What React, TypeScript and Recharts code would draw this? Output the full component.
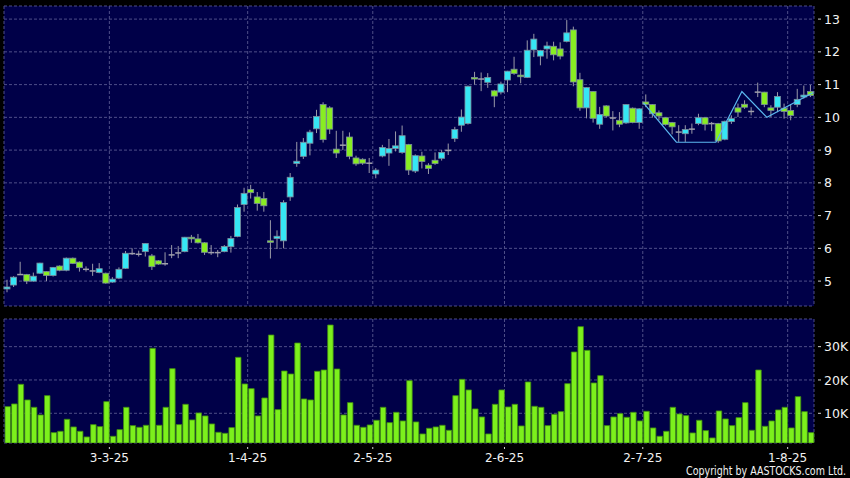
import React from "react";
import { ComposedChart, BarChart, Bar, Line, XAxis, YAxis, CartesianGrid } from "recharts";

// daily OHLC, 7 Feb 2025 .. 6 Aug 2025 (123 sessions)
const OPEN = [
  4.76, 4.88, 5.21, 5.2, 5.0, 5.24, 5.29, 5.17, 5.46, 5.33,
  5.7, 5.58, 5.37, 5.32, 5.26, 5.24, 4.97, 5.09, 5.39, 5.85,
  5.83, 5.9, 5.77, 5.62, 5.54, 5.81, 5.87, 5.9, 6.34, 6.29,
  6.17, 5.88, 5.88, 5.9, 6.05, 6.36, 7.34, 7.8, 7.57, 7.52,
  6.23, 6.3, 6.23, 7.57, 8.59, 8.81, 9.21, 9.65, 10.39, 10.29,
  9.03, 9.17, 9.4, 8.76, 8.72, 8.61, 8.27, 8.82, 8.91, 9.05,
  8.93, 9.17, 8.36, 8.82, 8.54, 8.69, 8.75, 9.0, 9.35, 9.76,
  9.81, 11.22, 11.18, 11.07, 10.81, 10.77, 11.14, 11.47, 11.29, 11.22,
  12.06, 11.87, 12.09, 12.17, 12.09, 12.32, 12.67, 11.15, 10.29, 10.79,
  9.79, 10.35, 9.99, 9.91, 9.83, 10.28, 9.84, 10.47, 10.39, 10.14,
  9.99, 9.84, 9.56, 9.5, 9.65, 9.81, 9.99, 9.82, 9.81, 9.33,
  9.87, 10.29, 10.4, 10.19, 10.78, 10.77, 10.29, 10.31, 10.28, 10.21,
  10.39, 10.62, 10.79,
];
const HIGH = [
  5.04, 5.15, 5.59, 5.22, 5.26, 5.56, 5.3, 5.43, 5.48, 5.72,
  5.72, 5.6, 5.45, 5.53, 5.55, 5.26, 5.12, 5.42, 5.92, 6.0,
  5.93, 6.16, 5.83, 5.64, 5.88, 6.1, 6.07, 6.35, 6.41, 6.44,
  6.19, 6.1, 5.95, 6.1, 6.38, 7.34, 7.85, 7.94, 7.72, 7.72,
  6.86, 6.55, 7.47, 8.3, 9.25, 9.37, 9.62, 10.23, 10.46, 10.34,
  9.59, 9.59, 9.54, 8.83, 8.75, 8.76, 8.45, 9.16, 9.34, 9.57,
  9.75, 9.19, 8.87, 8.95, 8.6, 8.93, 9.0, 9.2, 9.71, 10.24,
  10.97, 11.39, 11.37, 11.35, 10.84, 11.09, 11.42, 11.85, 11.47, 12.35,
  12.55, 12.06, 12.31, 12.31, 12.29, 12.97, 12.77, 11.36, 10.92, 10.8,
  10.32, 10.37, 10.19, 10.16, 10.4, 10.3, 10.28, 10.7, 10.4, 10.21,
  10.0, 9.86, 9.76, 9.76, 9.81, 10.11, 10.0, 9.86, 9.83, 9.9,
  10.06, 10.42, 10.52, 10.31, 11.06, 10.78, 10.37, 10.77, 10.42, 10.4,
  10.87, 10.97, 10.99,
];
const LOW = [
  4.66, 4.82, 5.2, 4.91, 4.98, 5.22, 5.0, 5.14, 5.3, 5.3,
  5.52, 5.29, 5.29, 5.16, 5.24, 4.92, 4.95, 5.06, 5.37, 5.8,
  5.75, 5.75, 5.34, 5.5, 5.47, 5.7, 5.7, 5.88, 6.17, 6.15,
  5.8, 5.8, 5.73, 5.88, 5.87, 6.34, 7.12, 7.52, 7.15, 7.12,
  5.69, 5.98, 6.0, 7.45, 8.49, 8.73, 8.84, 9.52, 9.23, 9.49,
  8.76, 9.0, 8.72, 8.52, 8.55, 8.3, 8.14, 8.78, 8.52, 8.96,
  8.89, 8.24, 8.3, 8.44, 8.27, 8.55, 8.68, 8.85, 9.25, 9.56,
  9.78, 11.0, 10.8, 10.9, 10.31, 10.7, 10.77, 11.3, 11.04, 11.2,
  11.84, 11.59, 11.79, 11.74, 11.77, 12.29, 10.95, 10.2, 9.97, 9.84,
  9.65, 10.0, 9.6, 9.7, 9.8, 9.82, 9.65, 10.31, 9.99, 9.91,
  9.75, 9.48, 9.25, 9.25, 9.5, 9.76, 9.6, 9.58, 9.22, 9.3,
  9.8, 10.01, 10.26, 10.06, 10.62, 10.31, 10.01, 10.16, 9.96, 9.91,
  10.31, 10.57, 10.62,
];
const CLOSE = [
  4.82, 5.12, 5.2, 5.0, 5.15, 5.55, 5.17, 5.42, 5.33, 5.7,
  5.54, 5.41, 5.36, 5.31, 5.38, 4.94, 5.06, 5.36, 5.85, 5.84,
  5.82, 6.15, 5.44, 5.52, 5.53, 5.8, 5.86, 6.34, 6.29, 6.17,
  5.88, 5.87, 5.87, 6.06, 6.3, 7.25, 7.68, 7.7, 7.37, 7.3,
  6.21, 6.37, 7.4, 8.17, 8.66, 9.24, 9.55, 10.03, 9.32, 9.64,
  8.91, 9.15, 8.81, 8.58, 8.6, 8.6, 8.39, 9.08, 9.05, 9.13,
  9.44, 8.39, 8.83, 8.65, 8.44, 8.59, 8.93, 8.99, 9.63, 10.01,
  10.95, 11.17, 11.17, 11.22, 10.65, 11.02, 11.41, 11.34, 11.24, 12.05,
  12.39, 12.04, 12.18, 11.91, 11.87, 12.58, 11.08, 10.29, 10.91, 9.97,
  10.09, 10.04, 9.98, 9.79, 10.39, 9.84, 10.26, 10.4, 10.11, 10.04,
  9.78, 9.71, 9.55, 9.63, 9.64, 9.99, 9.79, 9.81, 9.28, 9.88,
  9.96, 10.16, 10.31, 10.18, 10.77, 10.39, 10.21, 10.64, 10.18, 10.06,
  10.55, 10.68, 10.67,
];
// volume in thousands of shares
const VOLUME_K = [
  12.0, 12.8, 18.7, 14.0, 11.8, 9.5, 15.3, 4.2, 4.6, 8.2,
  5.9, 4.6, 2.9, 6.6, 6.0, 13.5, 3.1, 5.1, 11.8, 6.3,
  5.8, 6.4, 29.5, 6.4, 11.8, 23.4, 6.6, 12.7, 8.0, 10.1,
  9.2, 6.8, 4.3, 4.0, 5.7, 26.8, 18.8, 17.4, 9.2, 14.6,
  33.5, 11.1, 22.7, 21.8, 31.1, 14.3, 14.0, 22.6, 23.0, 36.5,
  23.3, 9.5, 13.2, 6.4, 5.8, 6.5, 7.9, 11.8, 7.2, 10.3,
  7.7, 19.8, 7.4, 3.8, 5.5, 5.9, 6.4, 4.9, 15.3, 20.2,
  17.0, 11.3, 8.9, 3.8, 12.7, 17.0, 11.9, 12.7, 6.2, 19.4,
  12.1, 11.8, 6.3, 9.7, 10.5, 18.9, 28.4, 36.0, 28.9, 19.1,
  21.3, 6.3, 8.9, 9.9, 8.8, 10.3, 7.7, 10.6, 5.6, 3.1,
  4.6, 11.8, 9.8, 9.3, 4.1, 7.9, 4.8, 2.6, 10.7, 8.3,
  6.3, 8.7, 13.2, 4.9, 23.0, 6.1, 7.7, 11.0, 11.8, 5.6,
  15.0, 10.5, 4.2,
];

// month markers sit on the left edge of the first session of each month
const TICK_POS = [15.5, 36.5, 55.5, 75.5, 96.5, 118.5];
const TICK_LABELS = ["3-3-25", "1-4-25", "2-5-25", "2-6-25", "2-7-25", "1-8-25"];
const PRICE_TICKS = [5, 6, 7, 8, 9, 10, 11, 12, 13];
const VOL_TICKS = [10000, 20000, 30000];

// trend line drawn over the last weeks
const PATTERN_X = [96.6, 101.6, 107.6, 111.55, 115.35, 122.4];
const PATTERN_Y = [10.44, 9.24, 9.24, 10.79, 10.0, 10.76];

const rows = OPEN.map((o, i) => ({
  i,
  o,
  h: HIGH[i],
  l: LOW[i],
  c: CLOSE[i],
  range: [LOW[i], HIGH[i]],
  vol: VOLUME_K[i] * 1000,
}));
const pattern = PATTERN_X.map((x, k) => ({ i: x, p: PATTERN_Y[k] }));

const PANEL = "#000048";
const GRID = "#4e4e88";
const FONT = "DejaVu Sans, Verdana, sans-serif";

const Candle = (props: any) => {
  const { x, y, width, height, payload } = props;
  if (!payload || x == null) return null;
  const { o, h, l, c } = payload;
  const top = Math.min(y, y + height);
  const hh = Math.abs(height);
  const span = h - l || 1;
  const py = (v: number) => top + ((h - v) / span) * hh;
  const cx = x + width / 2;
  const flat = Math.abs(o - c) < 0.02;
  const b1 = py(Math.max(o, c));
  const b2 = py(Math.min(o, c));
  return (
    <g>
      <line x1={cx} x2={cx} y1={top} y2={top + hh} stroke="#9a9aa8" strokeWidth={1} />
      {flat ? (
        <line x1={x} x2={x + width} y1={py(c)} y2={py(c)} stroke="#a0a0ac" strokeWidth={1.5} />
      ) : (
        <rect
          x={x}
          y={b1}
          width={width}
          height={Math.max(b2 - b1, 1.5)}
          fill={c > o ? "#36e6f4" : "#88ee22"}
          stroke="#7a8c9c"
          strokeWidth={0.8}
        />
      )}
    </g>
  );
};

const RightTick = (props: any) => {
  const { x, y, payload, fmt } = props;
  return (
    <g>
      <line x1={x + 4} x2={x + 7} y1={y} y2={y} stroke="#d0d0d0" />
      <text x={x + 10} y={y} dy={4.6} fill="#f2f2f2" fontSize={12.5} fontFamily={FONT}>
        {fmt(payload.value)}
      </text>
    </g>
  );
};

const BottomTick = (props: any) => {
  const { x, y, payload } = props;
  const k = TICK_POS.indexOf(payload.value);
  return (
    <g>
      <line x1={x} x2={x} y1={y + 4} y2={y + 6} stroke="#d0d0d0" />
      <text x={x} y={y + 18.5} textAnchor="middle" fill="#f2f2f2" fontSize={12} fontFamily={FONT}>
        {TICK_LABELS[k]}
      </text>
    </g>
  );
};

const App = () => {
  return (
    <div style={{ position: "absolute", left: 0, top: 0, width: 850, height: 478, background: "#000" }}>
      <ComposedChart width={850} height={312} data={rows} margin={{ top: 6, right: 0, bottom: 6, left: 4 }}>
        <CartesianGrid stroke={GRID} strokeDasharray="3 2" fill={PANEL} />
        <XAxis dataKey="i" type="number" domain={[-0.5, 122.5]} ticks={TICK_POS} interval={0} hide />
        {/* separate axis for the trend line so its points do not shrink the candle width */}
        <XAxis xAxisId="pat" dataKey="i" type="number" domain={[-0.5, 122.5]} hide />
        <YAxis
          orientation="right"
          width={36}
          domain={[4.24, 13.4]}
          ticks={PRICE_TICKS}
          interval={0}
          axisLine={false}
          tickLine={false}
          tickSize={0}
          tickMargin={0}
          allowDataOverflow
          tick={(p: any) => <RightTick {...p} fmt={(v: number) => String(v)} />}
        />
        <Bar dataKey="range" barSize={6} shape={<Candle />} isAnimationActive={false} />
        <Line
          xAxisId="pat"
          data={pattern}
          dataKey="p"
          type="linear"
          stroke="#5cb8f0"
          strokeWidth={1.2}
          dot={false}
          activeDot={false}
          isAnimationActive={false}
        />
      </ComposedChart>
      <BarChart width={850} height={166} data={rows} margin={{ top: 7, right: 0, bottom: 5, left: 4 }}>
        <CartesianGrid stroke={GRID} strokeDasharray="3 2" fill={PANEL} />
        <XAxis
          dataKey="i"
          type="number"
          domain={[-0.5, 122.5]}
          ticks={TICK_POS}
          interval={0}
          height={30}
          axisLine={false}
          tickLine={false}
          tickSize={0}
          tickMargin={0}
          tick={(p: any) => <BottomTick {...p} />}
        />
        <YAxis
          orientation="right"
          width={36}
          domain={[1080, 38300]}
          ticks={VOL_TICKS}
          interval={0}
          axisLine={false}
          tickLine={false}
          tickSize={0}
          tickMargin={0}
          allowDataOverflow
          tick={(p: any) => <RightTick {...p} fmt={(v: number) => `${v / 1000}K`} />}
        />
        <Bar dataKey="vol" barSize={5.5} fill="#7cf01c" stroke="#3f8a12" strokeWidth={0.8} isAnimationActive={false} />
      </BarChart>
      <svg width={850} height={478} style={{ position: "absolute", left: 0, top: 0, pointerEvents: "none" }}>
        {/* narrow, tall lettering like the source: small font stretched vertically */}
        <g transform="translate(846 474.5) scale(1 1.25)">
          <text x={0} y={0} textAnchor="end" fill="#f2f2f2" fontSize={9.5} fontFamily={FONT}>
            Copyright by AASTOCKS.com Ltd.
          </text>
        </g>
      </svg>
    </div>
  );
};

export default App;
